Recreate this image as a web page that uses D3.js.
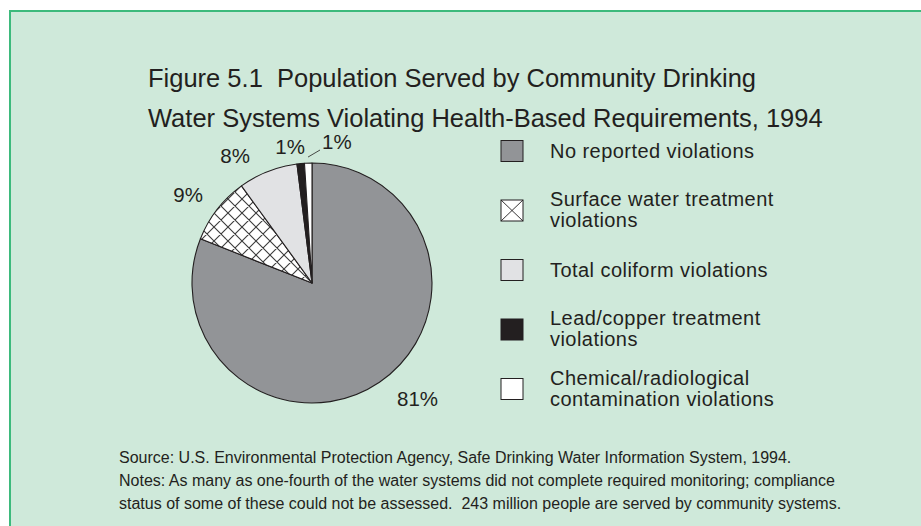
<!DOCTYPE html>
<html>
<head>
<meta charset="utf-8">
<script src="https://cdn.jsdelivr.net/npm/d3@7"></script>
<style>
  html, body { margin: 0; padding: 0; background: #ffffff; }
  svg { display: block; font-family: "Liberation Sans", Arial, Helvetica, sans-serif; }
  svg text { white-space: pre; }
</style>
</head>
<body>
<svg id="chart" width="921" height="526"></svg>
<script>
// Population served, by violation type (percent of total)
const categories = [
  "No reported violations",
  "Surface water treatment violations",
  "Total coliform violations",
  "Lead/copper treatment violations",
  "Chemical/radiological contamination violations"
];
const values = [81, 9, 8, 1, 1];
const legendLines = [
  ["No reported violations"],
  ["Surface water treatment", "violations"],
  ["Total coliform violations"],
  ["Lead/copper treatment", "violations"],
  ["Chemical/radiological", "contamination violations"]
];
const titleLines = [
  "Figure 5.1  Population Served by Community Drinking",
  "Water Systems Violating Health-Based Requirements, 1994"
];
const footerLines = [
  "Source: U.S. Environmental Protection Agency, Safe Drinking Water Information System, 1994.",
  "Notes: As many as one-fourth of the water systems did not complete required monitoring; compliance",
  "status of some of these could not be assessed.  243 million people are served by community systems."
];

const ink = "#231f20";
const fills = ["#929497", "url(#crosshatch)", "#e1e2e4", "#231f20", "#ffffff"];

const svg = d3.select("#chart");

// Panel background
svg.append("rect")
  .attr("x", 10).attr("y", 11)
  .attr("width", 930).attr("height", 540)
  .attr("fill", "#cfe9da")
  .attr("stroke", "#3dba7c")
  .attr("stroke-width", 2);

// Cross-hatch pattern for surface water slice
const defs = svg.append("defs");
const pat = defs.append("pattern")
  .attr("id", "crosshatch")
  .attr("patternUnits", "userSpaceOnUse")
  .attr("width", 14).attr("height", 14);
pat.append("rect").attr("width", 14).attr("height", 14).attr("fill", "#ffffff");
pat.append("path")
  .attr("d", "M0,0L14,14M14,0L0,14M-7,7L0,14M7,-7L14,0M0,0L-7,7M14,14L21,7")
  .attr("stroke", "#3a3a3a").attr("stroke-width", 1.1).attr("fill", "none");

// Title
svg.append("g").selectAll("text")
  .data(titleLines).join("text")
  .attr("x", 148)
  .attr("y", (d, i) => 87 + i * 40)
  .attr("font-size", 25.5)
  .attr("fill", ink)
  .text(d => d);

// Pie
const cx = 312, cy = 283, r = 120;
const pie = d3.pie().sort(null).value(d => d);
const arcs = pie(values);
const arc = d3.arc().innerRadius(0).outerRadius(r);

const g = svg.append("g").attr("transform", `translate(${cx},${cy})`);
g.selectAll("path")
  .data(arcs).join("path")
  .attr("d", arc)
  .attr("fill", (d, i) => fills[i])
  .attr("stroke", ink)
  .attr("stroke-width", 1.1)
  .attr("stroke-linejoin", "round");

// Percentage labels
const labelSpec = [
  { x: 397, y: 406, anchor: "start" },
  { x: 203, y: 202, anchor: "end" },
  { x: 250, y: 163, anchor: "end" },
  { x: 305, y: 154, anchor: "end" },
  { x: 322, y: 149, anchor: "start" }
];
svg.append("g").selectAll("text")
  .data(arcs).join("text")
  .attr("x", (d, i) => labelSpec[i].x)
  .attr("y", (d, i) => labelSpec[i].y)
  .attr("text-anchor", (d, i) => labelSpec[i].anchor)
  .attr("font-size", 20.5)
  .attr("fill", ink)
  .text(d => d.data + "%");

// Leader line for the chemical/radiological slice
const chem = arcs[4];
const mid = (chem.startAngle + chem.endAngle) / 2;
svg.append("line")
  .attr("x1", cx + Math.sin(mid) * (r + 6))
  .attr("y1", cy - Math.cos(mid) * (r + 6))
  .attr("x2", 320).attr("y2", 150)
  .attr("stroke", ink).attr("stroke-width", 0.8);

// Legend
const legendTop = 151, legendStep = 59.5;
const lg = svg.append("g");
const item = lg.selectAll("g")
  .data(categories).join("g")
  .attr("transform", (d, i) => `translate(501,${legendTop + i * legendStep})`);
item.append("rect")
  .attr("x", 0).attr("y", -10.5)
  .attr("width", 22).attr("height", 21)
  .attr("fill", (d, i) => fills[i] === "url(#crosshatch)" ? "#ffffff" : fills[i])
  .attr("stroke", ink).attr("stroke-width", 1);
// swatch for the hatched slice: a single X
item.filter((d, i) => i === 1).append("path")
  .attr("d", "M0,-10.5L22,10.5M22,-10.5L0,10.5")
  .attr("stroke", ink).attr("stroke-width", 0.9);
item.append("text")
  .attr("font-size", 20)
  .attr("letter-spacing", 0.45)
  .attr("fill", ink)
  .each(function (d, i) {
    const lines = legendLines[i];
    const t = d3.select(this);
    const y0 = lines.length === 1 ? 7 : -4.5;
    lines.forEach((s, k) => {
      t.append("tspan").attr("x", 49).attr("y", y0 + k * 21).text(s);
    });
  });

// Footer
svg.append("g").selectAll("text")
  .data(footerLines).join("text")
  .attr("x", 119)
  .attr("y", (d, i) => 463 + i * 23)
  .attr("font-size", 16)
  .attr("fill", ink)
  .text(d => d);
</script>
</body>
</html>
